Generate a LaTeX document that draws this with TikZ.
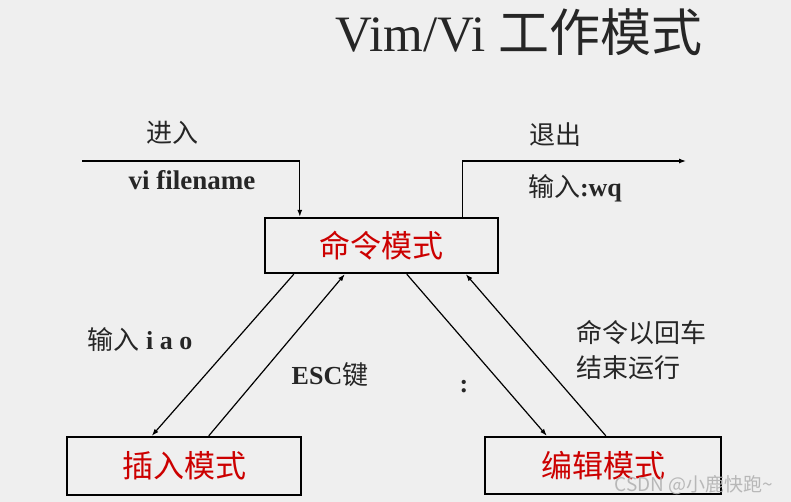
\documentclass[tikz,border=0pt]{standalone}
\usepackage{fontspec}
\setmainfont{Liberation Serif}
\newfontfamily\cjk{Noto Sans CJK SC}
\newfontfamily\wmfont{Noto Sans CJK SC}
\usetikzlibrary{arrows,arrows.meta,positioning,calc}
\definecolor{bgcol}{HTML}{EFEFEF}
\definecolor{modered}{HTML}{CC0000}
\definecolor{txtcol}{HTML}{262626}

\begin{document}
\begin{tikzpicture}[x=1pt,y=-1pt,>={Latex[length=7pt,width=5pt]},
  modebox/.style={draw=black,line width=2.4pt,inner sep=0pt,text=modered,font=\cjk\fontsize{31}{31}\selectfont},
  label/.style={text=txtcol,inner sep=0pt,font=\fontsize{26}{26}\selectfont},
  conn/.style={line width=1.2pt}]
\fill[bgcol] (0,0) rectangle (791,502);
\useasboundingbox (0,0) rectangle (791,502);
% title
\node[text=txtcol,inner sep=0pt,font=\fontsize{51}{51}\selectfont] (title) at (519,32) {Vim/Vi {\cjk 工作模式}};
% modes
\node[modebox,minimum width=233,minimum height=55] (cmd) at (381.5,245.5) {命令模式};
\node[modebox,minimum width=234,minimum height=58] (ins) at (184,466) {插入模式};
\node[modebox,minimum width=236,minimum height=57] (edt) at (603,465.5) {编辑模式};
% free ends
\coordinate (in) at (82,161);
\coordinate (out) at (686,161);
% labels
\node[label] (enterlbl) at (172,133) {\cjk 进入};
\node[label,font=\bfseries\fontsize{27}{27}\selectfont] (vilbl) at (192,180) {vi filename};
\node[label] (exitlbl) at (555,135) {\cjk 退出};
\node[label] (wqlbl) at (575,188) {{\cjk 输入}\textbf{:wq}};
\node[label] (iaolbl) at (140,340) {{\cjk 输入}\textbf{ i a o}};
\node[label] (esclbl) at (330,375) {\textbf{ESC}{\cjk 键}};
\node[label] (colonlbl) at (464,387) {\textbf{:}};
\node[label,align=left,font=\cjk\fontsize{26}{35}\selectfont] (retlbl) at (641,350) {命令以回车\\结束运行};
\node[text=black!30,opacity=0.9,inner sep=0pt,font=\wmfont\fontsize{19}{19}\selectfont] (wm) at (694,485) {CSDN @小鹿快跑\textasciitilde};
% connectors
\draw[->,conn] (in) -| ([xshift=36]cmd.north west);
\draw[->,conn] ([xshift=199]cmd.north west) |- (out);
\path[->,conn]
(cmd.south west) ++(30,0) coordinate (c1) (ins.north west) ++(86,0) coordinate (i1)
(c1) edge (i1)
(ins.north west) ++(143,0) coordinate (i2) (cmd.south west) ++(81,0) coordinate (c2)
(i2) edge (c2)
(cmd.south west) ++(143,0) coordinate (c3) (edt.north west) ++(63,0) coordinate (e1)
(c3) edge (e1)
(edt.north west) ++(122,0) coordinate (e2) (cmd.south west) ++(202,0) coordinate (c4)
(e2) edge (c4)
;
\end{tikzpicture}
\end{document}
